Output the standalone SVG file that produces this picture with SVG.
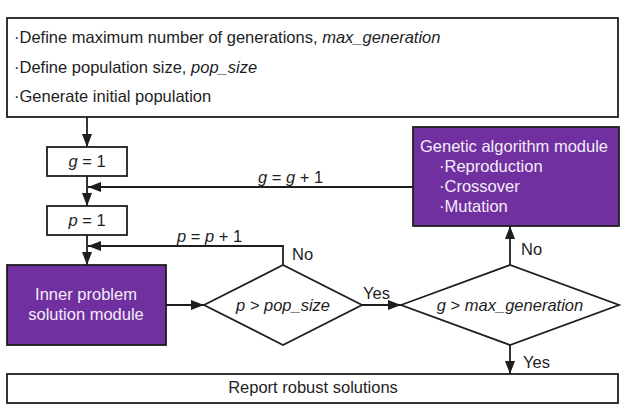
<svg xmlns="http://www.w3.org/2000/svg" width="626" height="411" viewBox="0 0 626 411">
<defs>
<style>
.box{fill:#ffffff;stroke:#1e1e1e;stroke-width:1.8}
.pbox{fill:#7030a0;stroke:#1e1e1e;stroke-width:1.8}
.t{font-family:"Liberation Sans",Arial,sans-serif;font-size:16.5px;fill:#1e1e1e}
.w{font-family:"Liberation Sans",Arial,sans-serif;font-size:16.5px;fill:#f4ecf8}
.i{font-style:italic}
.c{text-anchor:middle}
.ln{fill:none;stroke:#1e1e1e;stroke-width:1.8}
</style>
<marker id="ah" markerWidth="13" markerHeight="10" refX="13" refY="5" orient="auto" markerUnits="userSpaceOnUse">
<path d="M0,0 L13,5 L0,10 Z" fill="#1e1e1e"/>
</marker>
</defs>
<rect width="626" height="411" fill="#ffffff"/>

<g id="init">
<rect class="box" x="7" y="18" width="611" height="99"/>
<text class="t" x="14" y="43">·Define maximum number of generations, <tspan class="i">max_generation</tspan></text>
<text class="t" x="14" y="73">·Define population size, <tspan class="i">pop_size</tspan></text>
<text class="t" x="14" y="102">·Generate initial population</text>
</g>

<g id="g1">
<rect class="box" x="47" y="147" width="80" height="29"/>
<text class="t c" x="87" y="167"><tspan class="i">g</tspan> = 1</text>
</g>

<g id="p1">
<rect class="box" x="47" y="206" width="80" height="29"/>
<text class="t c" x="87" y="226"><tspan class="i">p</tspan> = 1</text>
</g>

<g id="inner">
<rect class="pbox" x="7" y="265" width="159" height="80"/>
<text class="w c" x="86" y="300">Inner problem</text>
<text class="w c" x="86" y="320">solution module</text>
</g>

<g id="dec1">
<polygon class="box" points="204,305 283,265 362,305 283,345"/>
<text class="t c i" x="283" y="311">p &gt; pop_size</text>
</g>

<g id="dec2">
<polygon class="box" points="401,305 510,265 619,305 510,345"/>
<text class="t c" x="510" y="311"><tspan class="i">g</tspan> &gt; <tspan class="i">max_generation</tspan></text>
</g>

<g id="ga">
<rect class="pbox" x="413" y="127" width="206" height="99"/>
<text class="w" x="420" y="152">Genetic algorithm module</text>
<text class="w" x="439" y="172">·Reproduction</text>
<text class="w" x="439" y="192">·Crossover</text>
<text class="w" x="439" y="212">·Mutation</text>
</g>

<g id="report">
<rect class="box" x="7" y="374" width="611" height="29"/>
<text class="t c" x="313" y="393">Report robust solutions</text>
</g>

<g id="connectors">
<line class="ln" x1="87" y1="117" x2="87" y2="147" marker-end="url(#ah)"/>
<line class="ln" x1="87" y1="176" x2="87" y2="206" marker-end="url(#ah)"/>
<line class="ln" x1="413" y1="187" x2="88" y2="187" marker-end="url(#ah)"/>
<line class="ln" x1="87" y1="235" x2="87" y2="265" marker-end="url(#ah)"/>
<polyline class="ln" points="283,265 283,246 88,246" marker-end="url(#ah)"/>
<line class="ln" x1="166" y1="305" x2="204" y2="305" marker-end="url(#ah)"/>
<line class="ln" x1="362" y1="305" x2="401" y2="305" marker-end="url(#ah)"/>
<line class="ln" x1="510" y1="265" x2="510" y2="226" marker-end="url(#ah)"/>
<line class="ln" x1="510" y1="345" x2="510" y2="374" marker-end="url(#ah)"/>
<text class="t" x="258" y="183"><tspan class="i">g</tspan> = <tspan class="i">g</tspan> + 1</text>
<text class="t" x="177" y="242"><tspan class="i">p</tspan> = <tspan class="i">p</tspan> + 1</text>
<text class="t" x="292" y="260">No</text>
<text class="t" x="521" y="255">No</text>
<text class="t" x="363" y="299">Yes</text>
<text class="t" x="523" y="368">Yes</text>
</g>
</svg>
